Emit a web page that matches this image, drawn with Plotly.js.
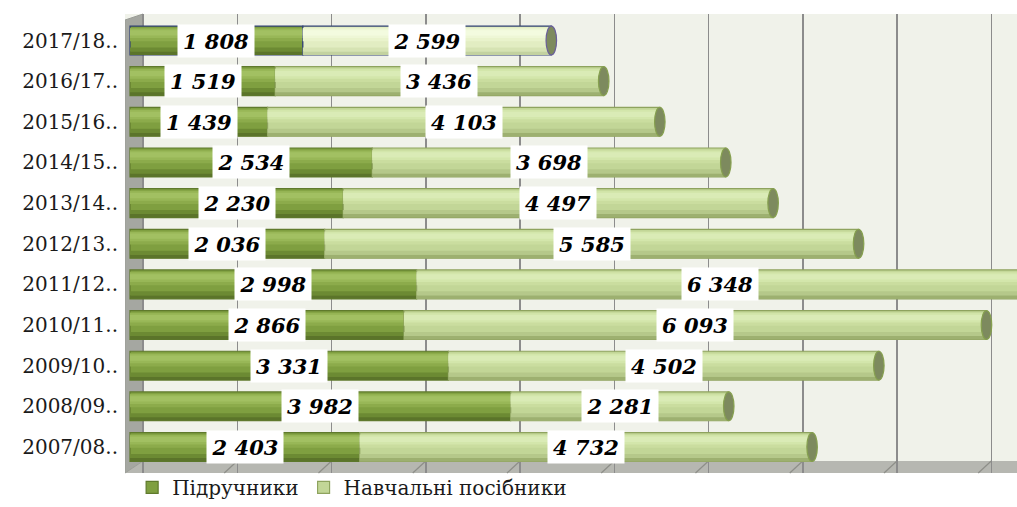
<!DOCTYPE html>
<html>
<head>
<meta charset="utf-8">
<script src="https://cdn.plot.ly/plotly-3.0.1.min.js"></script>
<style>html,body{margin:0;padding:0;background:#fff;}#chart{width:1017px;height:507px;}</style>
</head>
<body>
<div id="chart"></div>
<script>
// ---- data ----
const categories = ['2007/08..','2008/09..','2009/10..','2010/11..','2011/12..','2012/13..','2013/14..','2014/15..','2015/16..','2016/17..','2017/18..'];
const textbooks  = [2403, 3982, 3331, 2866, 2998, 2036, 2230, 2534, 1439, 1519, 1808];
const manuals    = [4732, 2281, 4502, 6093, 6348, 5585, 4497, 3698, 4103, 3436, 2599];
const seriesNames = ['Підручники', 'Навчальні посібники'];

// ---- styling helpers ----
const special = '2017/18..';
const isSp = c => c === special;
const fmt = n => String(n).replace(/\B(?=(\d{3})+(?!\d))/g, ' ');
const HALF = 0.355;

const zeros = categories.map(() => 0);
const totals = categories.map((c, i) => textbooks[i] + manuals[i]);

// gradient layers: [offsetFromCenter, width, normalColor, specialColor]
const darkLayers = [
  [-0.355, 0.09, '#5b742a', '#5b742a'],
  [-0.27, 0.10, '#6c8a33', '#6c8a33'],
  [-0.02, 0.33, '#8cab4b', '#8cab4b'],
  [0.06, 0.23, '#98b757', '#98b757'],
  [0.12, 0.13, '#a2c062', '#a2c062']
];
const lightLayers = [
  [-0.355, 0.09, '#9db070', '#c3d2a0'],
  [-0.27, 0.10, '#b5c88a', '#d6e3b3'],
  [-0.02, 0.33, '#cadd9f', '#e9f3cc'],
  [0.06, 0.23, '#d3e6ab', '#eef7d6'],
  [0.12, 0.13, '#daebb6', '#f3fbdf']
];

const traces = [];
function addSeries(name, vals, bases, baseColor, baseColorSp, edge, layers) {
  traces.push({
    type: 'bar', orientation: 'h', name: name,
    y: categories, x: vals, base: bases,
    width: 2 * HALF, offset: -HALF,
    marker: {
      color: categories.map(c => isSp(c) ? baseColorSp : baseColor),
      line: { color: categories.map(c => isSp(c) ? '#2f3f72' : edge), width: 1.2 }
    },
    hoverinfo: 'skip', showlegend: true, legendgroup: name
  });
  layers.forEach(L => {
    traces.push({
      type: 'bar', orientation: 'h', name: name,
      y: categories, x: vals, base: bases,
      width: L[1], offset: L[0],
      marker: { color: categories.map(c => isSp(c) ? L[3] : L[2]), line: { width: 0 } },
      hoverinfo: 'skip', showlegend: false, legendgroup: name
    });
  });
}
addSeries(seriesNames[0], textbooks, zeros, '#7f9f40', '#7f9f40', '#5f7a2c', darkLayers);
addSeries(seriesNames[1], manuals, textbooks, '#c2d697', '#e2edc2', '#8ea35e', lightLayers);

// ---- axis geometry (pixel-to-data helpers for decorative 3D walls) ----
const PX = 0.0956;               // px per unit on bar axis
const xMin = -5 / PX, xMax = 887 / PX;
const gridStart = 13 / PX, gridStep = 94.25 / PX;
const depth = 13 / PX;

const plotH = 459;
const yFloorTop = 12 / plotH;

const shapes = [];
// floor
shapes.push({
  type: 'path', xref: 'x', yref: 'paper', layer: 'between',
  path: `M ${gridStart},${yFloorTop} L ${xMax + 100},${yFloorTop} L ${xMax + 100},0 L ${xMin},0 Z`,
  fillcolor: '#b6b7b1', line: { width: 0 }
});
// left wall
shapes.push({
  type: 'path', xref: 'x', yref: 'paper', layer: 'between',
  path: `M ${xMin},0 L ${xMin},${1 - 6 / plotH} L ${gridStart},1 L ${gridStart},${yFloorTop} Z`,
  fillcolor: '#a5a7a1', line: { color: '#9a9c96', width: 1 }
});
// floor tick marks
for (let g = gridStart + gridStep; g < xMax; g += gridStep) {
  shapes.push({
    type: 'line', xref: 'x', yref: 'paper', layer: 'between',
    x0: g, x1: g - depth, y0: yFloorTop, y1: 0,
    line: { color: '#8e8f89', width: 1.2 }
  });
}
// end caps of cylinders
categories.forEach((c, i) => {
  const capW = 55;
  shapes.push({
    type: 'circle', xref: 'x', yref: 'y', layer: 'above',
    x0: totals[i] - capW, x1: totals[i] + capW, y0: i - HALF, y1: i + HALF,
    fillcolor: '#7d8a5e', line: { color: isSp(c) ? '#6a5f9a' : '#86a04f', width: 1.2 }
  });
});

// ---- value labels ----
const annotations = [];
categories.forEach((c, i) => {
  const common = {
    xref: 'x', yref: 'y', y: c, showarrow: false,
    font: { family: 'DejaVu Serif', size: 21, color: '#000', weight: 'bold', style: 'italic' },
    bgcolor: '#ffffff', borderpad: 1, width: 74, height: 30, align: 'center'
  };
  annotations.push(Object.assign({}, common, { x: textbooks[i] / 2, text: fmt(textbooks[i]) }));
  annotations.push(Object.assign({}, common, { x: textbooks[i] + manuals[i] / 2, text: fmt(manuals[i]) }));
});

const layout = {
  width: 1017, height: 507,
  margin: { l: 125, r: 0, t: 14, b: 34, autoexpand: false },
  paper_bgcolor: '#ffffff', plot_bgcolor: '#f0f2ea',
  barmode: 'overlay',
  xaxis: {
    range: [xMin, xMax], showticklabels: false, ticks: '',
    tick0: gridStart, dtick: gridStep,
    showgrid: true, gridcolor: '#8c8c8c', gridwidth: 1.5,
    zeroline: false, showline: false, fixedrange: true
  },
  yaxis: {
    type: 'category', categoryorder: 'array', categoryarray: categories,
    range: [-0.64, 10.652],
    showgrid: false, zeroline: false, showline: false, ticks: '',
    tickfont: { family: 'DejaVu Serif', size: 20, color: '#1a1a1a' },
    ticklabelstandoff: 6, fixedrange: true
  },
  legend: {
    orientation: 'h', x: 0.008, xanchor: 'left', y: -0.074, yanchor: 'bottom',
    font: { family: 'DejaVu Serif', size: 20, color: '#1a1a1a' },
    itemwidth: 30, traceorder: 'normal', bgcolor: 'rgba(0,0,0,0)'
  },
  shapes: shapes,
  annotations: annotations,
  showlegend: true
};

Plotly.newPlot('chart', traces, layout, { displayModeBar: false, staticPlot: true });
</script>
</body>
</html>
